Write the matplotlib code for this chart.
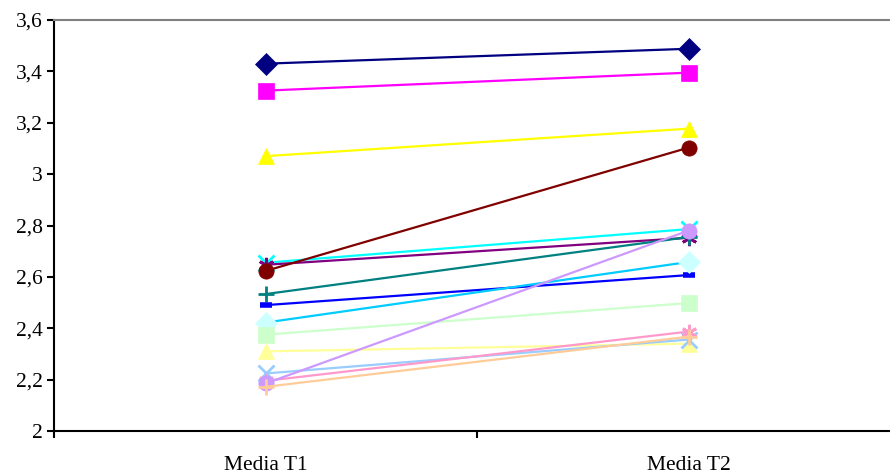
import numpy as np
import matplotlib.pyplot as plt
from matplotlib.ticker import FuncFormatter

categories = ["Media T1", "Media T2"]

# one pair of means per series (T1, T2)
series_t1 = [3.43, 3.325, 3.07, 2.655, 2.647, 2.623, 2.533, 2.49, 2.422, 2.375,
             2.31, 2.224, 2.195, 2.185, 2.172]
series_t2 = [3.488, 3.395, 3.177, 2.786, 2.752, 3.103, 2.755, 2.607, 2.658, 2.498,
             2.34, 2.356, 2.387, 2.78, 2.367]

line_colors = ["#000080", "#FF00FF", "#FFFF00", "#00FFFF", "#800080", "#800000",
               "#008080", "#0000FF", "#00CCFF", "#CCFFCC", "#FFFF99", "#99CCFF",
               "#FF99CC", "#CC99FF", "#FFCC99"]
face_colors = ["#000080", "#FF00FF", "#FFFF00", "#00FFFF", "#800080", "#800000",
               "#008080", "#0000FF", "#CCFFFF", "#CCFFCC", "#FFFF99", "#99CCFF",
               "#FF99CC", "#CC99FF", "#FFCC99"]
markers = ["D", "s", "^", "x", (6, 2, 0), "o", "+", "_",
           "D", "s", "^", "x", (6, 2, 0), "o", "+"]

fig = plt.figure(figsize=(8.9, 4.74), dpi=100)
ax = fig.add_axes([54 / 890, 1 - 431 / 474, 846 / 890, 411 / 474])

x = np.arange(len(categories))
for i in range(len(series_t1)):
    m = markers[i]
    ms = 11
    mew = 0.5
    edge = face_colors[i]
    if m in ("x", "+") or isinstance(m, tuple):
        ms = 11
        mew = 2
        edge = line_colors[i]
    if m == "_":
        ms = 8
        mew = 4
        edge = line_colors[i]
    ax.plot(x, [series_t1[i], series_t2[i]], color=line_colors[i], linewidth=1.6,
            marker=m, markersize=ms, markerfacecolor=face_colors[i],
            markeredgecolor=edge, markeredgewidth=mew, clip_on=False)

ax.set_xlim(-0.5, 1.5)
ax.set_ylim(2, 3.6)
ax.set_yticks(np.arange(2, 3.61, 0.2))
ax.yaxis.set_major_formatter(FuncFormatter(lambda v, p: ("%.1f" % v).rstrip("0").rstrip(".").replace(".", ",")))

ax.set_xticks([-0.5, 0.5, 1.5])
ax.set_xticklabels([])
ax.set_xticks(x, minor=True)
ax.set_xticklabels(categories, minor=True)
ax.tick_params(axis="x", which="minor", length=0, pad=18)
ax.tick_params(axis="x", which="major", length=5, width=1.5, direction="out")
ax.tick_params(axis="y", length=5, width=1.5, direction="out", pad=3)

for lab in ax.get_xticklabels(minor=True) + ax.get_yticklabels():
    lab.set_fontfamily("Liberation Serif")
    lab.set_fontsize(15.5)

ax.spines["left"].set_linewidth(1.5)
ax.spines["bottom"].set_linewidth(1.5)
ax.spines["top"].set_color("#808080")
ax.spines["top"].set_linewidth(1.5)
ax.spines["right"].set_visible(False)

fig.savefig("out.png", dpi=100)
